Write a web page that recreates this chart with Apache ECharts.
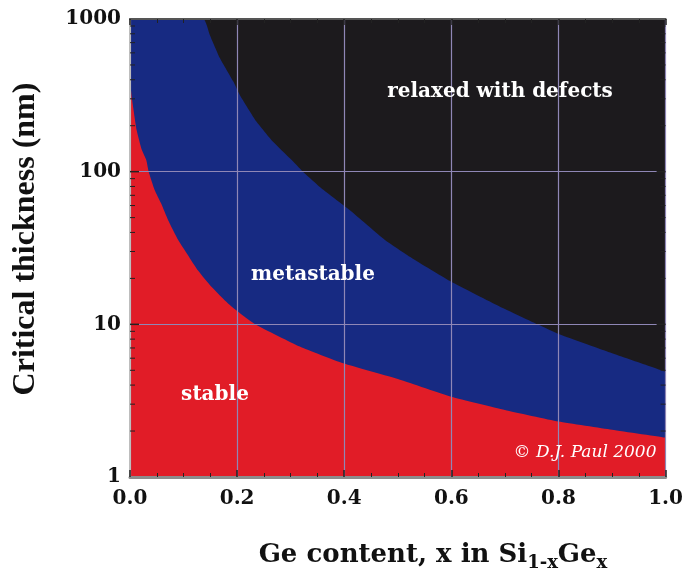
<!DOCTYPE html>
<html><head><meta charset="utf-8">
<script src="https://cdn.jsdelivr.net/npm/echarts@6/dist/echarts.min.js"></script>
<style>html,body{margin:0;padding:0;background:#fff}#c{width:686px;height:581px}</style>
</head><body><div id="c"></div>
<script>
// Upper boundary of the metastable region (metastable / relaxed)
const xMeta = [0, 0.137, 0.149, 0.168, 0.193, 0.205, 0.236, 0.267, 0.299, 0.323, 0.361, 0.41, 0.476, 0.532, 0.6, 0.69, 0.765, 0.8, 0.883, 1.0];
const hMeta = [1000, 1000, 786, 553, 389, 318, 213, 157, 122, 100, 76, 56, 35.7, 26.4, 19, 13.1, 9.85, 8.65, 6.8, 4.9];
// Upper boundary of the stable region (stable / metastable)
const xStable = [0, 0.004, 0.0125, 0.022, 0.0305, 0.035, 0.046, 0.058, 0.071, 0.09, 0.108, 0.127, 0.152, 0.183, 0.214, 0.236, 0.317, 0.398, 0.504, 0.6, 0.7, 0.8, 0.9, 1.0];
const hStable = [398, 295, 187, 139, 119, 99.5, 75.9, 62, 48.3, 35.7, 28.5, 22.5, 17.6, 13.7, 11.2, 9.9, 7.15, 5.55, 4.34, 3.36, 2.75, 2.31, 2.04, 1.81];
const yTickLabels = ['1', '10', '100', '1000'];
const xTickLabels = ['0.0', '0.2', '0.4', '0.6', '0.8', '1.0'];
const minorY = [2,3,4,5,6,7,8,9,20,30,40,50,60,70,80,90,200,300,400,500,600,700,800,900];
const majorY = [10, 100];
const regionLabels = ['relaxed with defects', 'metastable', 'stable'];

const serifW = '"DejaVu Serif", serif';
const serifT = '"Liberation Serif", serif';
const chart = echarts.init(document.getElementById('c'), null, {renderer: 'canvas'});
const metaData = xMeta.map((x, i) => [x, hMeta[i]]);
const stableData = xStable.map((x, i) => [x, hStable[i]]);
const gridColor = '#8f87b6';
const yTicks = minorY.map(v => [0, v, 5]).concat(majorY.map(v => [0, v, 9]));

chart.setOption({
  animation: false,
  grid: {left: 130, top: 19, right: 20, bottom: 104, show: true, backgroundColor: '#1c1a1d', borderWidth: 0},
  xAxis: [{
    type: 'value', min: 0, max: 1, interval: 0.2, z: 5,
    axisLine: {show: true, onZero: false, lineStyle: {color: '#8c8c8c', width: 3}},
    axisTick: {show: true, inside: true, length: 7, lineStyle: {color: '#222', width: 1.5}},
    minorTick: {show: true, splitNumber: 4, length: 4, lineStyle: {color: '#222', width: 1}},
    splitLine: {show: true, lineStyle: {color: gridColor, width: 1.2}},
    axisLabel: {
      margin: 12, color: '#111', fontFamily: serifW, fontWeight: 'bold', fontSize: 20,
      formatter: v => xTickLabels[Math.round(v / 0.2)]
    }
  }, {
    type: 'value', min: 0, max: 1, interval: 0.2, position: 'top', z: 5,
    axisLine: {show: true, lineStyle: {color: '#555', width: 2}},
    axisTick: {show: true, inside: true, length: 6, lineStyle: {color: '#222', width: 1.5}},
    minorTick: {show: true, splitNumber: 4, length: 4, lineStyle: {color: '#222', width: 1}},
    splitLine: {show: false}, axisLabel: {show: false}
  }],
  yAxis: [{
    type: 'log', logBase: 10, min: 1, max: 1000, z: 5,
    axisLine: {show: true, onZero: false, lineStyle: {color: '#555', width: 2}},
    axisTick: {show: false},
    splitLine: {show: true, lineStyle: {color: gridColor, width: 1.2}},
    axisLabel: {
      margin: 9, color: '#111', fontFamily: serifW, fontWeight: 'bold', fontSize: 20,
      formatter: v => yTickLabels[Math.round(Math.log10(v))]
    }
  }, {
    type: 'log', logBase: 10, min: 1, max: 1000, position: 'right', z: 5,
    axisLine: {show: true, lineStyle: {color: '#bdbdbd', width: 2}},
    axisTick: {show: false},
    splitLine: {show: false}, axisLabel: {show: false}
  }],
  series: [{
    type: 'line', data: metaData, symbol: 'none', smooth: 0.15,
    lineStyle: {width: 0}, areaStyle: {color: '#172a82', opacity: 1, origin: 'start'}, z: 2
  }, {
    type: 'line', data: stableData, symbol: 'none', smooth: 0.15,
    lineStyle: {width: 0}, areaStyle: {color: '#e11c27', opacity: 1, origin: 'start'}, z: 3
  }, {
    type: 'custom', data: yTicks, z: 6, silent: true,
    renderItem: (params, api) => {
      const v = api.value(1), len = api.value(2);
      const pl = api.coord([0, v]);
      const pr = api.coord([1, v]);
      return {type: 'group', children: [
        {type: 'line', shape: {x1: pl[0], y1: pl[1], x2: pl[0] + len, y2: pl[1]}, style: {stroke: '#222', lineWidth: len > 6 ? 1.5 : 1}},
        {type: 'line', shape: {x1: pr[0], y1: pr[1], x2: pr[0] - len, y2: pr[1]}, style: {stroke: '#222', lineWidth: len > 6 ? 1.5 : 1}}
      ]};
    }
  }],
  graphic: [
    {type: 'text', x: 500, y: 92, z: 10, style: {text: regionLabels[0], fill: '#fff', font: 'bold 20px ' + serifW, align: 'center', verticalAlign: 'middle'}},
    {type: 'text', x: 313, y: 275, z: 10, style: {text: regionLabels[1], fill: '#fff', font: 'bold 20px ' + serifW, align: 'center', verticalAlign: 'middle'}},
    {type: 'text', x: 215, y: 395, z: 10, style: {text: regionLabels[2], fill: '#fff', font: 'bold 20px ' + serifW, align: 'center', verticalAlign: 'middle'}},
    {type: 'text', x: 585, y: 453, z: 10, style: {text: '\u00a9 D.J. Paul 2000', fill: '#fff', font: 'italic 17px ' + serifW, align: 'center', verticalAlign: 'middle'}},
    {type: 'text', z: 10, x: 26, y: 239, rotation: Math.PI / 2, style: {
      text: 'Critical thickness (nm)', fill: '#111', font: 'bold 32px ' + serifT, align: 'center', verticalAlign: 'middle'}},
    {type: 'text', z: 10, x: 433, y: 555, style: {
      text: '{a|Ge content, x in Si}{s|1-x}{a|Ge}{s|x}', align: 'center', verticalAlign: 'middle',
      rich: {
        a: {fill: '#111', fontFamily: serifW, fontWeight: 'bold', fontSize: 26, lineHeight: 30},
        s: {fill: '#111', fontFamily: serifW, fontWeight: 'bold', fontSize: 18, lineHeight: 30, padding: [16, 0, 0, 0]}
      }}}
  ]
});
</script></body></html>
